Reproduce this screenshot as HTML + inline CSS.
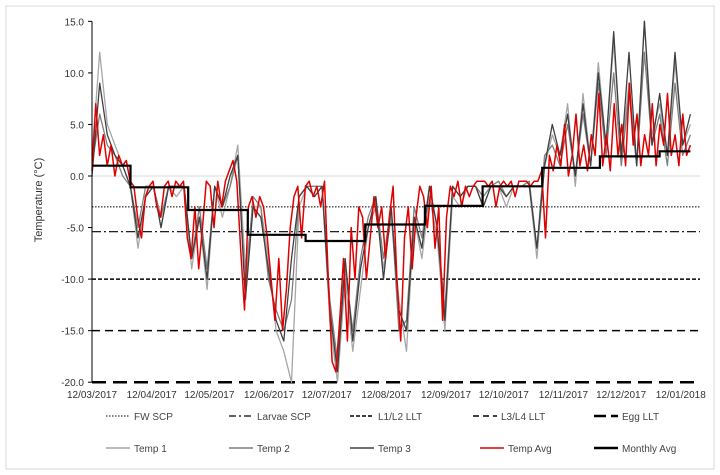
<!DOCTYPE html>
<html><head><meta charset="utf-8"><style>
body{margin:0;background:#fff;}
svg{display:block;font-family:"Liberation Sans",sans-serif;}
</style></head><body>
<svg id="chart" width="720" height="475" viewBox="0 0 720 475">
<rect x="6" y="6" width="708" height="463" fill="#fff" stroke="#d9d9d9"/>
<g id="grid"></g><g id="series"></g><g id="axes"></g><g id="legend"></g>
<text x="42" y="200" font-size="11" fill="#333" text-anchor="middle" transform="rotate(-90 42 200)">Temperature (°C)</text>
</svg>
<script>
const xTickLabels=["12/03/2017","12/04/2017","12/05/2017","12/06/2017","12/07/2017","12/08/2017","12/09/2017","12/10/2017","12/11/2017","12/12/2017","12/01/2018"];
const xTickDays=[0,31,61,92,122,153,184,214,245,275,306];
const yTicks=[15,10,5,0,-5,-10,-15,-20];
const thresholdNames=["FW SCP","Larvae SCP","L1/L2 LLT","L3/L4 LLT","Egg LLT"];
const thresholdValues=[-3,-5.4,-10,-15,-20];
const monthStartDays=[0,20,50,81,111,142,173,203,234,264,295];
const monthlyAvg=[1.0,-1.1,-3.3,-5.7,-6.3,-4.7,-2.9,-1.0,0.8,1.9,2.4];
const tempAvg=[0.5,7,2,4,1,3,0,2,1,1.5,
-0.5,-1,-4,-6,-2,-1,-0.5,-3,-4,-1,-0.5,-2,-0.5,-1,-0.5,
-6,-8,-3,-9,-5,-0.5,-1,-5,-0.5,-3,-0.5,0.5,1.5,-0.5,-7,-13,
-3,-2,-4,-2,-3,-6,-10,-14,-8,-15,-11,-5,-2,-1,-6,
-1,-0.5,-2,-1,-3,-0.5,-10,-18,-19,-14,-8,-16,-5,-10,-3,
-4,-10,-6,-2,-5,-3,-8,-4,-1,-10,-16,-6,-3,-9,-4,-1,
-2,-5,-1,-7,-3,-14,-4,-1,-2,-0.5,-3,-1,-2,-1,-0.5,
-0.5,-0.5,-1,-0.5,-3,-1,-0.5,-1,-0.5,-2,-0.5,-0.5,-0.5,-1,-0.5,
-0.5,0.5,-6,2,0.5,3,1,5,0,2,6,1,3,0.5,4,
2,8,1,4,0.5,7,2,5,1,9,3,6,1,4,2,7,
1,5,3,8,2,4,1,6,2,3];
const temp1=[2,12,5,3,1,-1,-7,-2,-1,-5,-1,-2,-1,-9,-4,-11,-1,-4,-1,3,-9,-3,-3,-8,-15,-17,-20,-3,-1,-2,-1,-14,-20,-10,-17,-11,-5,-3,-9,-4,-12,-17,-4,-8,-2,-6,-15,-2,-3,-1,-1,-3,-1,-1,-3,-1,-1,-1,-8,1,4,2,7,-1,8,1,11,3,13,2,9,1,15,4,7,2,11,3,5];
const temp2=[1,6,3,2,0,-1,-5,-1,-1,-4,-1,-1,-1,-8,-3,-9,-1,-3,-1,2,-11,-2,-3,-10,-13,-15,-12,-2,-1,-1,-1,-12,-18,-9,-15,-8,-4,-2,-8,-3,-15,-14,-3,-6,-1,-5,-13,-1,-2,-1,-1,-2,-1,-0.5,-2,-1,-1,-0.5,-7,2,3,1,5,0,6,1,9,2,10,1,8,1,12,3,6,1,9,2,4];
const temp3=[0,9,4,2,1,-1,-6,-2,-1,-5,-1,-1,-1,-8,-4,-10,-1,-3,0,2,-12,-3,-4,-9,-14,-16,-8,-2,-1,-2,-1,-13,-19,-8,-16,-9,-5,-2,-10,-3,-13,-15,-4,-7,-1,-5,-14,-1,-2,-1,-1,-3,-1,-1,-2,-1,-1,-1,-7,1,5,2,6,0,7,1,10,3,14,2,12,1,15,3,8,2,12,3,6];

const X0=92,X1=700,DAYS_END=316,LAST_DAY=311;
const x=d=>X0+d*(X1-X0)/DAYS_END;
const y=v=>176-v*10.31;
const NS="http://www.w3.org/2000/svg";
function mk(tag,parent,attrs){const e=document.createElementNS(NS,tag);for(const k in attrs)e.setAttribute(k,attrs[k]);parent.appendChild(e);return e;}
const grid=document.getElementById('grid'),series=document.getElementById('series'),axes=document.getElementById('axes'),legend=document.getElementById('legend');

let zl=mk('line',grid,{x1:X0,x2:X1,y1:y(0),y2:y(0),stroke:'#d9d9d9','stroke-width':1});



const thrStyles=[{w:1,d:'1.5,1.5'},{w:1.2,d:'9,3,2,3'},{w:1.5,d:'4,2'},{w:1.5,d:'8,5'},{w:2.5,d:'14,7'}];
thresholdValues.forEach((v,i)=>{
 const l=mk('line',series,{x1:X0,x2:X1,y1:y(v),y2:y(v),stroke:'#000','stroke-width':thrStyles[i].w,'stroke-dasharray':thrStyles[i].d});
 
 
});

function drawSeries(arr,color,w,name){
 const step=LAST_DAY/(arr.length-1);
 const pts=arr.map((v,i)=>x(i*step).toFixed(1)+','+y(v).toFixed(1)).join(' ');
 const p=mk('polyline',series,{points:pts,fill:'none',stroke:color,'stroke-width':w,'stroke-linejoin':'round'});
 
 
}
drawSeries(temp1,'#a6a6a6',1.3,'temp-1-line');
drawSeries(temp2,'#7f7f7f',1.3,'temp-2-line');
drawSeries(temp3,'#404040',1.3,'temp-3-line');
drawSeries(tempAvg,'#e00000',1.5,'temp-avg-line');

let d='';
monthlyAvg.forEach((v,i)=>{
 const s=monthStartDays[i],e=i+1<monthStartDays.length?monthStartDays[i+1]:LAST_DAY;
 d+=(i===0?'M':'L')+x(s).toFixed(1)+','+y(v).toFixed(1)+'L'+x(e).toFixed(1)+','+y(v).toFixed(1);
});
const ma=mk('path',series,{d:d,fill:'none',stroke:'#000','stroke-width':2.2});



const ya=mk('line',axes,{x1:X0,x2:X0,y1:y(15),y2:y(-20),stroke:'#000','stroke-width':1});


yTicks.forEach(v=>{
 mk('line',axes,{x1:X0-4,x2:X0,y1:y(v),y2:y(v),stroke:'#000'});
 const t=mk('text',axes,{x:X0-8,y:y(v)+4,'font-size':10,'text-anchor':'end',fill:'#333'});
 t.textContent=v.toFixed(1);
 
 
});
xTickLabels.forEach((lab,i)=>{
 const t=mk('text',axes,{x:x(xTickDays[i]),y:398,'font-size':10,'text-anchor':'middle',fill:'#333'});
 t.textContent=lab;
 
 
});

const legItems=[
 {n:'FW SCP',c:'#000',w:1,d:'1.5,1.5',x:106,y:419},
 {n:'Larvae SCP',c:'#000',w:1.2,d:'7,3,2,3',x:229,y:419},
 {n:'L1/L2 LLT',c:'#000',w:1.5,d:'4,2',x:350,y:419},
 {n:'L3/L4 LLT',c:'#000',w:1.5,d:'6,4',x:473,y:419},
 {n:'Egg LLT',c:'#000',w:2.5,d:'12,5',x:594,y:419},
 {n:'Temp 1',c:'#a6a6a6',w:1.5,d:'',x:106,y:451},
 {n:'Temp 2',c:'#7f7f7f',w:1.5,d:'',x:229,y:451},
 {n:'Temp 3',c:'#404040',w:1.5,d:'',x:350,y:451},
 {n:'Temp Avg',c:'#e00000',w:1.5,d:'',x:480,y:451},
 {n:'Monthly Avg',c:'#000',w:2.5,d:'',x:594,y:451}
];
legItems.forEach(it=>{
 const g=mk('g',legend,{});
 
 
 const a={x1:it.x,x2:it.x+24,y1:it.y-3,y2:it.y-3,stroke:it.c,'stroke-width':it.w};
 if(it.d)a['stroke-dasharray']=it.d;
 mk('line',g,a);
 const t=mk('text',g,{x:it.x+28,y:it.y+1,'font-size':10,fill:'#444'});
 t.textContent=it.n;
});
</script>
</body></html>
